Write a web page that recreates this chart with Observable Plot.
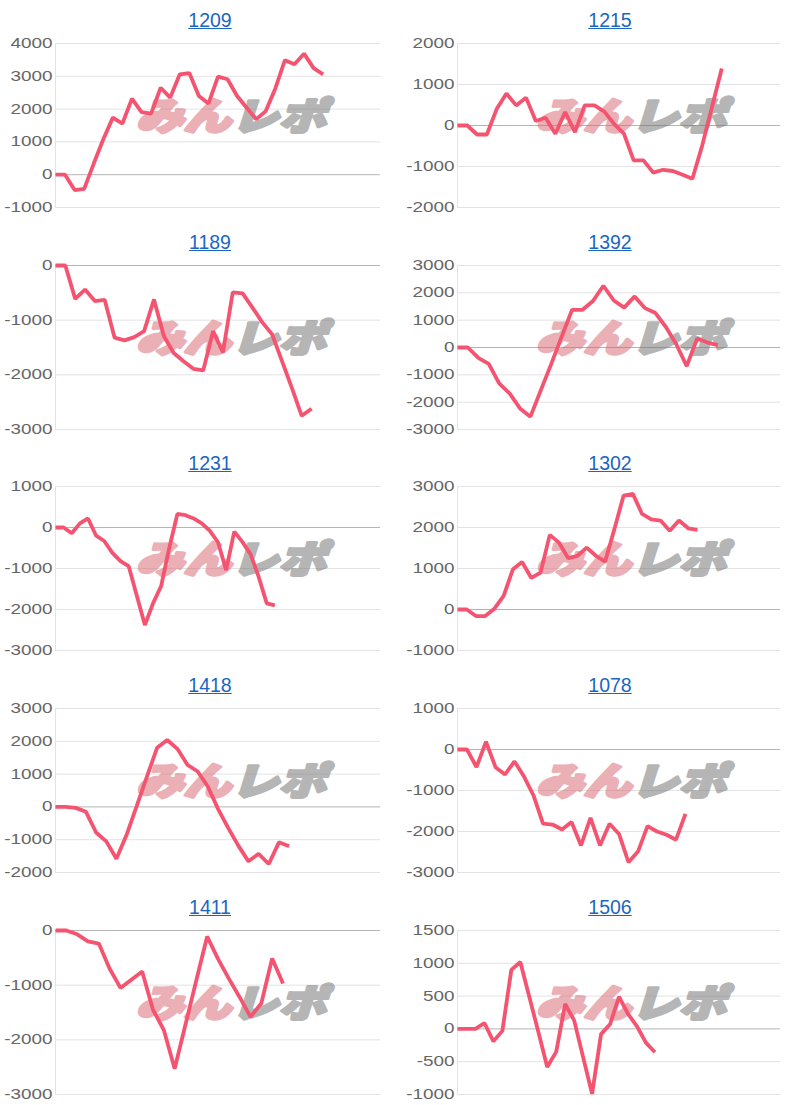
<!DOCTYPE html>
<html>
<head>
<meta charset="utf-8">
<script src="https://cdn.jsdelivr.net/npm/d3@7"></script>
<script src="https://cdn.jsdelivr.net/npm/@observablehq/plot@0.6"></script>
<style>
  html, body { margin: 0; padding: 0; background: #fff; }
  body { width: 802px; height: 1105px; position: relative; overflow: hidden;
         font-family: "Liberation Sans", Arial, Helvetica, sans-serif; }
  .panel { position: absolute; width: 400px; height: 222px; }
  .title { position: absolute; left: 0; top: 0; width: 420px; height: 40px; line-height: 40px;
           text-align: center; font-size: 19.5px; }
  .title a { color: #1b66c1; text-decoration: underline; }
  .chart { position: absolute; left: 0; top: 40px; }
  .chart svg { overflow: visible; }
</style>
</head>
<body>
<div id="root"></div>
<script>
// ---- data ----
const titles = ["1209", "1215", "1189", "1392", "1231", "1302", "1418", "1078", "1411", "1506"];

// number of x-axis category slots in each small chart
const labelCounts = [35, 34, 34, 32, 41, 36, 33, 35, 31, 37];

const s1209 = [0, 0, -470, -430, 340, 1080, 1740, 1560, 2320, 1910, 1860, 2650, 2350, 3060, 3100, 2400, 2170, 2990, 2910, 2400, 2040, 1690, 1940, 2630, 3490, 3370, 3690, 3250, 3060];
const s1215 = [0, 0, -220, -220, 400, 780, 490, 680, 110, 190, -200, 330, -160, 490, 490, 340, 40, -200, -850, -850, -1150, -1080, -1110, -1200, -1300, -490, 450, 1390];
const s1189 = [0, 0, -610, -440, -650, -630, -1320, -1370, -1310, -1200, -620, -1290, -1600, -1750, -1890, -1920, -1200, -1590, -490, -510, -770, -1040, -1260, -1750, -2240, -2750, -2620];
const s1392 = [0, 0, -380, -600, -1310, -1680, -2230, -2530, -1560, -600, 400, 1380, 1380, 1700, 2260, 1720, 1460, 1870, 1440, 1260, 750, 120, -680, 330, 180, 90];
const s1231 = [0, 0, -140, 100, 220, -200, -330, -620, -820, -940, -1660, -2380, -1850, -1430, -500, 330, 300, 220, 100, -80, -360, -1040, -100, -350, -650, -1200, -1850, -1900];
const s1302 = [0, 0, -160, -160, 20, 330, 980, 1160, 770, 900, 1820, 1630, 1250, 1310, 1510, 1310, 1170, 1960, 2780, 2820, 2330, 2200, 2170, 1920, 2170, 1980, 1940];
const s1418 = [0, 0, -30, -150, -780, -1050, -1580, -850, 30, 920, 1800, 2040, 1770, 1280, 1080, 620, -60, -640, -1180, -1660, -1430, -1740, -1080, -1200];
const s1078 = [0, 0, -430, 190, -430, -610, -290, -660, -1120, -1810, -1830, -1950, -1770, -2340, -1670, -2340, -1810, -2060, -2750, -2490, -1870, -2000, -2080, -2200, -1570];
const s1411 = [0, 0, -70, -200, -240, -700, -1050, -900, -750, -1450, -1820, -2530, -1720, -910, -110, -520, -880, -1220, -1580, -1330, -510, -970];
const s1506 = [0, 0, 0, 90, -190, -30, 900, 1020, 490, -40, -580, -350, 380, 130, -430, -990, -80, 70, 490, 230, 40, -210, -355];

const series = [s1209, s1215, s1189, s1392, s1231, s1302, s1418, s1078, s1411, s1506];

const t1209 = [-1000, 0, 1000, 2000, 3000, 4000];
const t1215 = [-2000, -1000, 0, 1000, 2000];
const t1189 = [-3000, -2000, -1000, 0];
const t1392 = [-3000, -2000, -1000, 0, 1000, 2000, 3000];
const t1231 = [-3000, -2000, -1000, 0, 1000];
const t1302 = [-1000, 0, 1000, 2000, 3000];
const t1418 = [-2000, -1000, 0, 1000, 2000, 3000];
const t1078 = [-3000, -2000, -1000, 0, 1000];
const t1411 = [-3000, -2000, -1000, 0];
const t1506 = [-1000, -500, 0, 500, 1000, 1500];
const yTicks = [t1209, t1215, t1189, t1392, t1231, t1302, t1418, t1078, t1411, t1506];

// ---- drawing ----
const LINE = "rgb(244, 84, 112)";
const root = document.getElementById("root");

titles.forEach((title, k) => {
  const col = k % 2, row = Math.floor(k / 2);
  const panel = document.createElement("div");
  panel.className = "panel";
  panel.style.left = (col * 400) + "px";
  panel.style.top = Math.round(row * 221.7) + "px";

  const t = document.createElement("div");
  t.className = "title";
  const a = document.createElement("a");
  a.href = "#";
  a.textContent = title;
  t.appendChild(a);
  panel.appendChild(t);

  const ticks = yTicks[k];
  const data = series[k].map((v, i) => ({i, v}));
  const zeroIn = ticks.includes(0);

  const plot = Plot.plot({
    width: 400,
    height: 183,
    marginTop: 3,
    marginBottom: 16,
    marginLeft: col === 0 ? 55 : 57,
    marginRight: 20,
    x: {domain: [0, labelCounts[k] - 1], axis: null},
    y: {domain: [d3.min(ticks), d3.max(ticks)], ticks: ticks, tickSize: 0, tickPadding: 3,
        tickFormat: d => String(d), label: null},
    style: {fontFamily: '"Liberation Sans", Arial, sans-serif', fontSize: "14px", color: "#666",
            background: "transparent", overflow: "visible"},
    marks: [
      Plot.ruleY(ticks.filter(d => d !== 0), {stroke: "#e3e3e3", strokeWidth: 1}),
      Plot.ruleX([0], {stroke: "#e3e3e3", strokeWidth: 1}),
      zeroIn ? Plot.ruleY([0], {stroke: "#b4b4b4", strokeWidth: 1}) : null,
      Plot.line(data, {x: "i", y: "v", stroke: LINE, strokeWidth: 3.8,
                       strokeLinejoin: "miter", strokeLinecap: "butt"})
    ].filter(Boolean)
  });

  const holder = document.createElement("div");
  holder.className = "chart";
  holder.appendChild(plot);
  panel.appendChild(holder);
  root.appendChild(panel);

  // watermark logo text, placed under the line
  const svg = d3.select(plot);
  const wm = svg.insert("text", 'g[aria-label="line"]')
    .attr("transform", "translate(231,90) scale(1.25,1)")
    .attr("text-anchor", "middle")
    .attr("opacity", 0.5)
    .attr("stroke-width", 3)
    .attr("stroke-linejoin", "round")
    .style("font-family", '"Noto Sans CJK JP", sans-serif')
    .style("font-size", "38px")
    .style("font-weight", "900")
    .style("font-style", "italic");
  wm.append("tspan").attr("fill", "#d9646e").attr("stroke", "#d9646e").text("みん");
  wm.append("tspan").attr("fill", "#6e6e6e").attr("stroke", "#6e6e6e").text("レポ");

  // the reference's tick labels are horizontally stretched
  plot.querySelectorAll('g[aria-label^="y-axis"] text').forEach(el => {
    const w = el.getComputedTextLength();
    if (w > 0) {
      el.setAttribute("textLength", (w * 1.35).toFixed(1));
      el.setAttribute("lengthAdjust", "spacingAndGlyphs");
    }
  });
});
</script>
</body>
</html>
